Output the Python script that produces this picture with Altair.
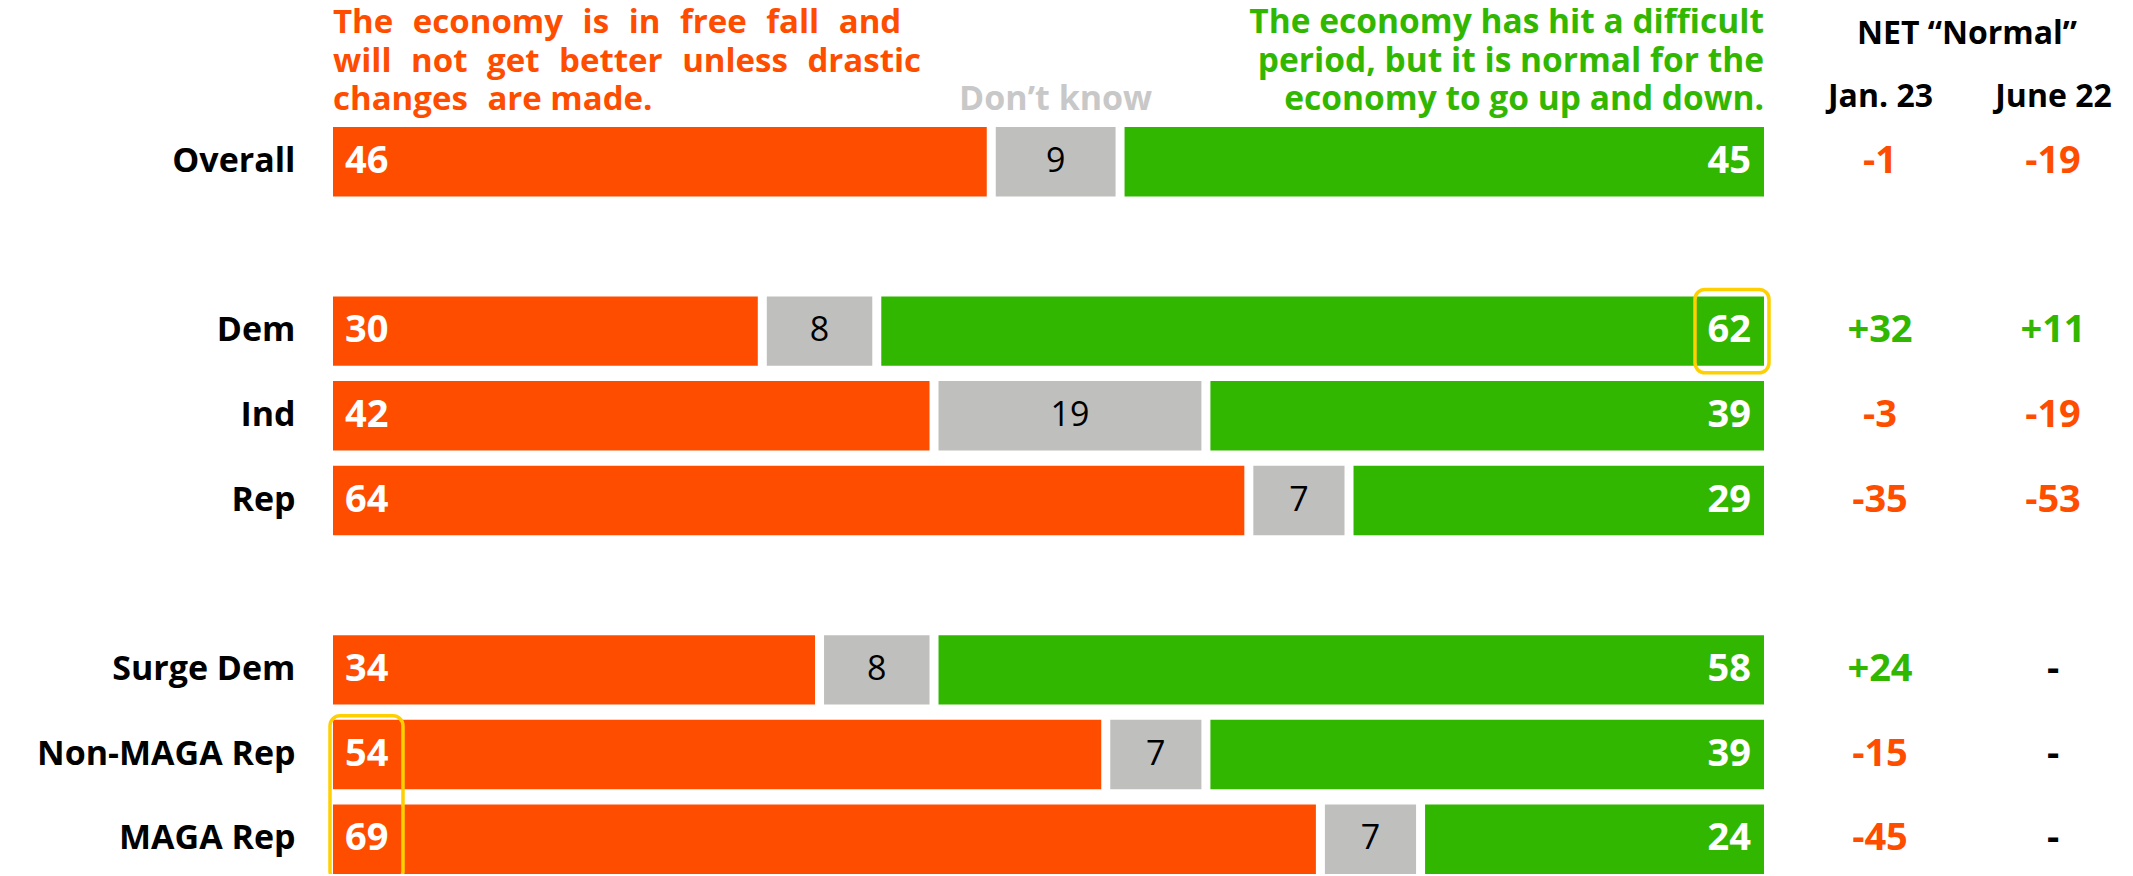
import altair as alt
import pandas as pd

# ---------------- data ----------------
categories = ["Overall", "Dem", "Ind", "Rep", "Surge Dem", "Non-MAGA Rep", "MAGA Rep"]
free_fall = [46, 30, 42, 64, 34, 54, 69]
dont_know = [9, 8, 19, 7, 8, 7, 7]
normal = [45, 62, 39, 29, 58, 39, 24]
net_jan23 = [-1, 32, -3, -35, 24, -15, -45]
net_june22 = [-19, 11, -19, -53, None, None, None]
periods = ["Jan. 23", "June 22"]
row_order = ["Overall", "_gap1", "Dem", "Ind", "Rep", "_gap2", "Surge Dem", "Non-MAGA Rep", "MAGA Rep"]
segments = ["free_fall", "dont_know", "normal"]
left_header = ["The economy is in free fall and",
               "will not get better unless drastic",
               "changes are made."]
right_header = ["The economy has hit a difficult",
                "period, but it is normal for the",
                "economy to go up and down."]
dk_header = "Don’t know"
net_title = "NET “Normal”"
highlight_normal = ["Dem"]
highlight_free_fall = ["Non-MAGA Rep", "MAGA Rep"]

# ---------------- styles ----------------
ORANGE = "#FF4D00"
GRAY = "#BFBFBD"
GREEN = "#32B700"
YELLOW = "#FFD000"
FONT = "Open Sans"

# justified look for the left header (widened word gaps)
def widen(line, extra):
    return line.replace(" ", " " + extra)

left_lines = [widen(left_header[0], "\u2004"),
              widen(left_header[1], "\u2004"),
              left_header[2].replace(" ", " \u2004", 1)]

# ---------------- tables ----------------
rows = []
bounds = []
for c, a, b, n in zip(categories, free_fall, dont_know, normal):
    rows.append(dict(cat=c, seg="free_fall", start=0, end=a, val=a))
    rows.append(dict(cat=c, seg="dont_know", start=a, end=a + b, val=b))
    rows.append(dict(cat=c, seg="normal", start=a + b, end=a + b + n, val=n))
    bounds.append(dict(cat=c, x=a))
    bounds.append(dict(cat=c, x=a + b))
df = pd.DataFrame(rows)
df["mid"] = (df["start"] + df["end"]) / 2
df_b = pd.DataFrame(bounds)

net_rows = []
for c, j, u in zip(categories, net_jan23, net_june22):
    for p, v in zip(periods, [j, u]):
        if v is None:
            net_rows.append(dict(cat=c, period=p, label="-", sign="na"))
        else:
            net_rows.append(dict(cat=c, period=p, label=f"{v:+d}" if v != 0 else "0",
                                 sign="pos" if v > 0 else "neg"))
df_net = pd.DataFrame(net_rows)

ov = df[(df.cat == "Overall") & (df.seg == "dont_know")].iloc[0]
df_hl = pd.DataFrame({"cat": ["Overall"], "x": [0], "text": ["\n".join(left_lines)]})
df_hr = pd.DataFrame({"cat": ["Overall"], "x": [100], "text": ["\n".join(right_header)]})
df_hd = pd.DataFrame({"cat": ["Overall"], "x": [ov["mid"]], "text": [dk_header]})
df_box_n = pd.DataFrame({"cat": [highlight_normal[0]], "cat_end": [highlight_normal[-1]]})
df_box_f = pd.DataFrame({"cat": [highlight_free_fall[0]], "cat_end": [highlight_free_fall[-1]]})

# ---------------- scales ----------------
xscale = alt.Scale(domain=[0, 100], nice=False, zero=False)
yscale = alt.Scale(domain=row_order, paddingInner=0.18, paddingOuter=0)
yaxis = alt.Axis(title=None, domain=False, ticks=False, tickSize=0, labelPadding=38,
                 labelFont=FONT, labelFontSize=34, labelFontWeight="bold", labelColor="black",
                 labelLimit=500, grid=False,
                 labelExpr="indexof(datum.label, '_gap') === 0 ? '' : datum.label")
Y = alt.Y("cat:N", scale=yscale, axis=yaxis, sort=row_order)

def X(field):
    return alt.X(field, scale=xscale, axis=None)

bars = alt.Chart(df).mark_bar().encode(
    x=X("start:Q"), x2="end:Q", y=Y,
    color=alt.Color("seg:N", scale=alt.Scale(domain=segments, range=[ORANGE, GRAY, GREEN]), legend=None),
)
gaps = alt.Chart(df_b).mark_tick(color="white", thickness=9, size=74, opacity=1).encode(
    x=X("x:Q"), y=Y)

ff_text = alt.Chart(df[df.seg == "free_fall"]).mark_text(
    align="left", baseline="middle", dx=12, font=FONT, fontWeight="bold", fontSize=38, color="white"
).encode(x=X("start:Q"), y=Y, text="val:Q")
dk_text = alt.Chart(df[df.seg == "dont_know"]).mark_text(
    align="center", baseline="middle", font=FONT, fontWeight="normal", fontSize=34, color="black"
).encode(x=X("mid:Q"), y=Y, text="val:Q")
nm_text = alt.Chart(df[df.seg == "normal"]).mark_text(
    align="right", baseline="middle", dx=-13, font=FONT, fontWeight="bold", fontSize=38, color="white"
).encode(x=X("end:Q"), y=Y, text="val:Q")

hdr_left = alt.Chart(df_hl).mark_text(
    align="left", baseline="alphabetic", lineBreak="\n", lineHeight=38.4, dy=-128.5,
    font=FONT, fontWeight="bold", fontSize=33, color=ORANGE
).encode(x=X("x:Q"), y=Y, text="text:N")
hdr_right = alt.Chart(df_hr).mark_text(
    align="right", baseline="alphabetic", lineBreak="\n", lineHeight=38.4, dy=-128.5,
    font=FONT, fontWeight="bold", fontSize=33.5, color=GREEN
).encode(x=X("x:Q"), y=Y, text="text:N")
hdr_dk = alt.Chart(df_hd).mark_text(
    align="center", baseline="alphabetic", dy=-51.7,
    font=FONT, fontWeight="bold", fontSize=34, color="#C8C8C8"
).encode(x=X("x:Q"), y=Y, text="text:N")

box_n = alt.Chart(df_box_n).mark_rect(
    filled=False, fill=None, stroke=YELLOW, strokeWidth=3.5, cornerRadius=10,
    xOffset=-69, x2Offset=5, yOffset=-7, y2Offset=7
).encode(
    x=alt.XDatum(100, scale=xscale, axis=None), x2=alt.X2Datum(100),
    y=alt.Y("cat:N", scale=yscale, axis=yaxis, sort=row_order, bandPosition=0),
    y2=alt.Y2("cat_end:N", bandPosition=1),
)
box_f = alt.Chart(df_box_f).mark_rect(
    filled=False, fill=None, stroke=YELLOW, strokeWidth=3.5, cornerRadius=10,
    xOffset=-3, x2Offset=70, yOffset=-4, y2Offset=7
).encode(
    x=alt.XDatum(0, scale=xscale, axis=None), x2=alt.X2Datum(0),
    y=alt.Y("cat:N", scale=yscale, axis=yaxis, sort=row_order, bandPosition=0),
    y2=alt.Y2("cat_end:N", bandPosition=1),
)

inner = alt.layer(bars, gaps, ff_text, dk_text, nm_text, hdr_left, hdr_right, hdr_dk, box_n, box_f)

net = alt.Chart(df_net).mark_text(
    align="center", baseline="middle", font=FONT, fontWeight="bold", fontSize=38
).encode(
    x=alt.X("period:N", sort=periods,
            scale=alt.Scale(type="point", domain=periods, range=[1547, 1720], padding=0),
            axis=alt.Axis(orient="top", title=net_title, labelFont=FONT, labelFontSize=32,
                          labelFontWeight="bold", labelColor="black", labelPadding=21,
                          labelBaseline="alphabetic", labelAngle=0, labelAlign="center",
                          domain=False, ticks=False, labelOverlap=False,
                          tickSize=0, grid=False, titleFont=FONT, titleFontSize=32,
                          titleFontWeight="bold", titleColor="black", titleY=-84,
                          titleBaseline="alphabetic")),
    y=Y,
    text="label:N",
    color=alt.Color("sign:N", scale=alt.Scale(domain=["pos", "neg", "na"], range=[GREEN, ORANGE, "black"]),
                    legend=None),
)

chart = alt.layer(inner, net).resolve_scale(x="independent", color="independent").properties(
    width=1431, height=747,
    autosize=alt.AutoSizeParams(type="none"),
    padding={"left": 325, "top": 119, "right": 361, "bottom": 0},
).configure(font=FONT).configure_view(stroke=None)

chart.save("out.html", embed_options={"renderer": "svg", "actions": False})
